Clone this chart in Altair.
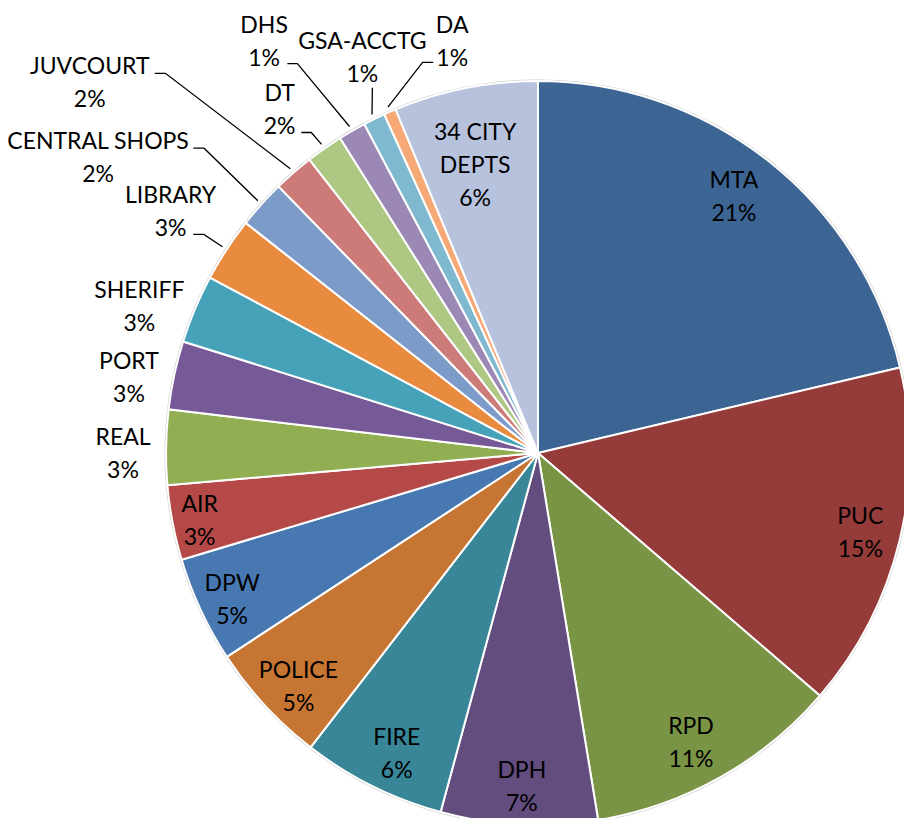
import math
import altair as alt
import pandas as pd

# ---------------- data ----------------
depts = ["MTA", "PUC", "RPD", "DPH", "FIRE", "POLICE", "DPW", "AIR", "REAL",
         "PORT", "SHERIFF", "LIBRARY", "CENTRAL SHOPS", "JUVCOURT", "DT",
         "DHS", "GSA-ACCTG", "DA", "34 CITY DEPTS"]
shares = [21.3, 15.0, 11.1, 6.8, 6.25, 5.3, 4.6, 3.25, 3.25,
          2.97, 2.97, 2.8, 2.1, 1.75, 1.6,
          1.2, 0.95, 0.53, 6.25]
colors = ["#3D6594", "#953B3A", "#7A9445", "#634C7E", "#388698", "#C77532",
          "#4878B2", "#B54947", "#91AF52", "#765A97", "#45A2B8", "#E88B3F",
          "#7D9BC8", "#CC7B79", "#AEC783", "#9C88B5", "#7EB9D0", "#F6A876",
          "#B7C3DD"]

# ---------------- layout ----------------
W, H = 896, 810
CX, CY = 530, 445          # pie centre inside the view
R = 372                    # pie radius
LEADER_R = 377             # where leader lines touch the pie
LINE_H = 33
FONT_SIZE = 23
# label placement (distance from centre, angular nudge from slice middle)
label_r = [323, 332, 327, 333, 332, 334, 339, 345, 415,
           416, 425, 440, 530, 582, 430,
           495, 433, 421, 295]
label_dtheta = [-1.0, 0.15, 1.4, -0.15, -1.25, -1.4, -0.6, -0.45, -0.9,
                -1.6, -2.5, 0.2, -8.1, -9.3, -1.9,
                -3.6, 2.2, 11.7, -1.05]
# leader line start (offset from label centre) and horizontal elbow length
leaders = {
    "JUVCOURT": (65, -8.5, 10.7),
    "CENTRAL SHOPS": (95.3, -9.2, 10.7),
    "LIBRARY": (22.7, 23.5, 10.6),
    "DT": (21.7, 23.2, 10),
    "DHS": (23.3, 23, 10),
    "GSA-ACCTG": (10, 30.6, 0),
    "DA": (-19, 21.6, -10.6),
}

total = sum(shares)
rows, lrows = [], []
cum = 0.0
for i, (d, s) in enumerate(zip(depts, shares)):
    mid = (cum + s / 2) / total * 360
    cum += s
    pct = round(s / total * 100)
    name = "34 CITY\nDEPTS" if d == "34 CITY DEPTS" else d
    label = f"{name}\n{pct}%"
    n_lines = label.count("\n") + 1
    a = math.radians(mid + label_dtheta[i])
    lx = CX + label_r[i] * math.sin(a)
    ly = CY - label_r[i] * math.cos(a)
    # first line position so that the text block is centred on (lx, ly)
    ty = ly - (n_lines - 1) / 2 * LINE_H + 1.4
    rows.append(dict(dept=d, share=s, idx=i, label=label, lx=lx, ty=ty))
    if d in leaders:
        dx, dy, el = leaders[d]
        x0, y0 = lx + dx, ly + dy
        am = math.radians(mid)
        pts = [(x0, y0), (x0 + el, y0),
               (CX + LEADER_R * math.sin(am), CY - LEADER_R * math.cos(am))]
        for k, (px, py) in enumerate(pts):
            lrows.append(dict(dept=d, k=k, x=px, y=py))

df = pd.DataFrame(rows)
ldf = pd.DataFrame(lrows)

rim = alt.Chart(pd.DataFrame({"v": [1]})).mark_arc(
    theta=0, theta2=6.2832, outerRadius=R + 1.5, color="#c8c8c8"
).encode(x=alt.value(CX), y=alt.value(CY))

pie = alt.Chart(df).mark_arc(outerRadius=R, stroke="white", strokeWidth=2).encode(
    theta=alt.Theta("share:Q", stack=True),
    color=alt.Color("dept:N", scale=alt.Scale(domain=depts, range=colors), legend=None),
    order=alt.Order("idx:Q"),
    x=alt.value(CX), y=alt.value(CY),
)

lines = alt.Chart(ldf).mark_line(color="black", strokeWidth=1.3).encode(
    x=alt.X("x:Q", scale=None, axis=None),
    y=alt.Y("y:Q", scale=None, axis=None),
    detail="dept:N",
    order="k:Q",
)

text = alt.Chart(df).mark_text(
    font="Lato", fontSize=FONT_SIZE, lineBreak="\n", lineHeight=LINE_H,
    align="center", baseline="middle", color="black"
).encode(
    x=alt.X("lx:Q", scale=None, axis=None),
    y=alt.Y("ty:Q", scale=None, axis=None),
    text="label:N",
)

chart = alt.layer(rim, pie, lines, text).properties(
    width=W, height=H, autosize=alt.AutoSizeParams(type="none"), padding=0
).configure_view(stroke=None)

chart.save("out.html", embed_options={"renderer": "svg", "actions": False})
